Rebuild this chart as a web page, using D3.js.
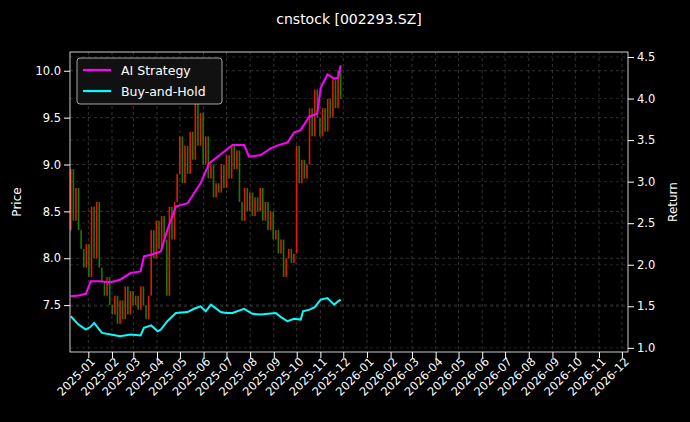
<!DOCTYPE html>
<html><head><meta charset="utf-8">
<script src="https://cdn.jsdelivr.net/npm/d3@7"></script>
<style>body{margin:0;background:#000}svg{display:block}text{font-family:"DejaVu Sans",sans-serif}</style>
</head><body><svg id="c" width="690" height="422"></svg>
<script>
const title = "cnstock [002293.SZ]";
const startDate = new Date(2024, 11, 9);
const stepDays = 3.4;
const closes = [8.95,8.4,8.75,8.3,8.1,7.9,8.15,
 7.8,8.55,8.0,8.6,7.9,7.75,7.6,7.8,7.5,
 7.4,7.6,7.3,7.55,7.35,7.7,7.4,7.65,7.5,
 7.6,7.45,7.7,7.5,7.35,7.6,8.3,8.0,8.4,
 8.1,8.45,8.2,7.6,8.55,8.2,8.6,8.9,9.3,
 8.8,9.2,8.9,9.35,9.05,9.75,9.2,9.55,9.0,
 9.3,8.85,9.0,8.65,8.8,8.7,9.0,8.75,9.1,
 8.85,9.2,8.95,9.15,8.6,8.4,8.75,8.5,8.7,
 8.45,8.65,8.5,8.75,8.4,8.6,8.3,8.5,8.2,
 8.3,8.05,8.2,7.8,8.0,8.1,7.95,8.05,9.2,
 8.8,9.05,8.85,9.0,9.6,9.3,9.8,9.5,9.3,
 9.6,9.35,9.7,9.5,9.9,9.6,10.0,9.7];
const firstOpen = 8.3;
const stratIdx = [0,3,5.8,7.7,11,15.4,19,23.1,26.9,28.2,31,34.7,37.2,40.5,45,50,53.3,57.8,62.3,66.8,68.7,73.2,77,80,83.5,86,88.6,91.8,95,96.3,98.9,101.5,103,104];
const stratVal = [1.62,1.63,1.65,1.80,1.80,1.79,1.82,1.90,1.92,2.10,2.12,2.16,2.42,2.70,2.74,2.98,3.22,3.33,3.44,3.44,3.30,3.32,3.40,3.44,3.47,3.59,3.62,3.78,3.82,4.13,4.29,4.24,4.25,4.40];
const bahIdx = [0,3,5.8,7.5,9,12,15.4,19,23.1,26.9,28.2,31,33.5,34.7,37.2,40.5,45,47.5,50,52,54,57.8,60,62.3,66.8,70,73.2,79,81,83.5,86,88.6,89.5,92,94,96.3,98.9,101.5,103,104];
const bahVal = [1.38,1.28,1.22,1.25,1.30,1.18,1.16,1.14,1.16,1.15,1.24,1.27,1.20,1.22,1.32,1.42,1.43,1.47,1.50,1.44,1.52,1.43,1.42,1.42,1.47,1.41,1.40,1.42,1.37,1.32,1.35,1.34,1.44,1.46,1.49,1.58,1.60,1.52,1.56,1.58];
const priceTicks = [7.5,8.0,8.5,9.0,9.5,10.0];
const returnTicks = [1.0,1.5,2.0,2.5,3.0,3.5,4.0,4.5];

const svg = d3.select("#c");
const L=70,R=628,T=52,B=352;
const dateOf = i => new Date(startDate.getTime() + i*stepDays*864e5);
const x = d3.scaleTime().domain([new Date(2024,11,8), new Date(2026,11,9)]).range([L,R]);
const y = d3.scaleLinear().domain([7.0,10.2]).range([B,T]);
const y2 = d3.scaleLinear().domain([0.95,4.56]).range([B,T]);
const months = d3.timeMonth.range(new Date(2025,0,1), new Date(2026,11,2));

const g = svg.append("g");
g.selectAll(".vg").data(months).join("line").attr("x1",d=>x(d)).attr("x2",d=>x(d)).attr("y1",T).attr("y2",B)
 .attr("stroke","#555").attr("stroke-width",0.6).attr("stroke-dasharray","3,3");
g.selectAll(".hg").data(priceTicks).join("line").attr("x1",L).attr("x2",R).attr("y1",d=>y(d)).attr("y2",d=>y(d))
 .attr("stroke","#555").attr("stroke-width",0.6).attr("stroke-dasharray","3,3");
g.selectAll(".hg2").data(returnTicks).join("line").attr("x1",L).attr("x2",R).attr("y1",d=>y2(d)).attr("y2",d=>y2(d))
 .attr("stroke","#3a3a3a").attr("stroke-width",0.6).attr("stroke-dasharray","3,3");

const candles = closes.map((c,i)=>({i, o: i===0?firstOpen:closes[i-1], c}));
g.selectAll(".cd").data(candles).join("rect")
 .attr("x",d=>x(dateOf(d.i))-0.8).attr("width",1.6)
 .attr("y",d=>y(Math.max(d.o,d.c))).attr("height",d=>Math.max(1,Math.abs(y(d.o)-y(d.c))))
 .attr("fill",d=>d.c>=d.o?"#ff1a00":"#1f8a00").attr("opacity",0.9);

const line = d3.line().x(d=>x(dateOf(d[0]))).y(d=>y2(d[1]));
g.append("path").datum(stratIdx.map((v,i)=>[v,stratVal[i]])).attr("d",line).attr("fill","none").attr("stroke","#ff00ff").attr("stroke-width",2);
g.append("path").datum(bahIdx.map((v,i)=>[v,bahVal[i]])).attr("d",line).attr("fill","none").attr("stroke","#00ffff").attr("stroke-width",2);

svg.append("rect").attr("x",L).attr("y",T).attr("width",R-L).attr("height",B-T).attr("fill","none").attr("stroke","#fff").attr("stroke-width",0.8);

const ax = svg.append("g").attr("transform",`translate(0,${B})`).call(d3.axisBottom(x).tickValues(months).tickFormat(d3.timeFormat("%Y-%m")).tickSizeOuter(0));
ax.select(".domain").remove();
ax.selectAll("line").attr("stroke","#fff");
ax.selectAll("text").attr("fill","#fff").attr("font-size",11.5).attr("text-anchor","end").attr("dx","-0.2em").attr("dy","0.3em").attr("transform","rotate(-45)");
const ay = svg.append("g").attr("transform",`translate(${L},0)`).call(d3.axisLeft(y).tickValues(priceTicks).tickFormat(d3.format(".1f")).tickSizeOuter(0));
ay.select(".domain").remove(); ay.selectAll("line").attr("stroke","#fff"); ay.selectAll("text").attr("fill","#fff").attr("font-size",11.5);
const ay2 = svg.append("g").attr("transform",`translate(${R},0)`).call(d3.axisRight(y2).tickValues(returnTicks).tickFormat(d3.format(".1f")).tickSizeOuter(0));
ay2.select(".domain").remove(); ay2.selectAll("line").attr("stroke","#fff"); ay2.selectAll("text").attr("fill","#fff").attr("font-size",11.5);

svg.append("text").attr("x",349).attr("y",24).attr("text-anchor","middle").attr("fill","#fff").attr("font-size",14).text(title);
svg.append("text").attr("transform","translate(21,202) rotate(-90)").attr("text-anchor","middle").attr("fill","#fff").attr("font-size",12).text("Price");
svg.append("text").attr("transform","translate(677,202) rotate(-90)").attr("text-anchor","middle").attr("fill","#fff").attr("font-size",12).text("Return");

const lg = svg.append("g").attr("transform","translate(77,58)");
lg.append("rect").attr("width",145).attr("height",46).attr("rx",3).attr("fill","#111").attr("stroke","#ccc").attr("stroke-width",0.8);
[["AI Strategy","#ff00ff"],["Buy-and-Hold","#00ffff"]].forEach((d,i)=>{
 lg.append("line").attr("x1",6).attr("x2",34).attr("y1",12+i*21).attr("y2",12+i*21).attr("stroke",d[1]).attr("stroke-width",2.2);
 lg.append("text").attr("x",44).attr("y",16.5+i*21).attr("fill","#fff").attr("font-size",12.5).text(d[0]);
});
</script></body></html>
